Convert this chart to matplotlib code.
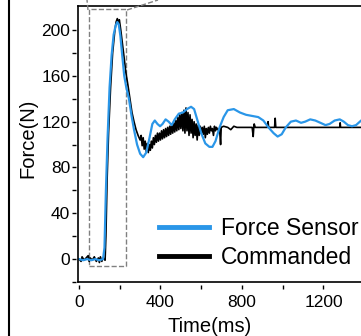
import matplotlib
matplotlib.use('Agg')
import matplotlib.pyplot as plt
from matplotlib.lines import Line2D
from matplotlib.patches import Rectangle

plt.rcParams['font.family'] = ['Liberation Sans', 'DejaVu Sans']

# force sensor reading (ms, N)
sensor_t = [0, 20, 40, 60, 80, 100, 118, 125, 132, 140, 150, 160, 170, 180, 188, 195, 203, 212,
            222, 232, 245, 258, 270, 285, 300, 315, 330, 345, 360, 372, 385, 398, 410, 425, 440,
            455, 470, 490, 510, 530, 550, 565, 580, 600, 620, 640, 655, 670, 690, 710, 730, 760,
            790, 820, 850, 880, 905, 930, 955, 975, 995, 1015, 1040, 1065, 1090, 1110, 1135, 1160,
            1185, 1210, 1230, 1255, 1280, 1300, 1320, 1340, 1360, 1385, 1420]
sensor_f = [0, -1, 0, -1, 0, -1, 0, 10, 60, 105, 150, 178, 196, 204, 207, 205, 195, 178,
            160, 150, 140, 125, 113, 100, 92, 89, 93, 105, 118, 121, 118, 116, 118, 122, 120,
            117, 122, 127, 128, 131, 133, 131, 122, 110, 101, 98, 98, 103, 115, 124, 130, 131,
            128, 126, 125, 124, 121, 115, 110, 107, 109, 115, 120, 121, 119, 120, 122, 121,
            119, 117, 118, 121, 122, 120, 117, 116, 117, 121, 123]

# commanded force (ms, N)
cmd_t = [0, 10, 15, 25, 35, 45, 50, 55, 65, 75, 85, 95, 100, 105, 112, 118, 125, 128,
         132, 138, 145, 155, 165, 175, 182, 188, 193, 198, 205, 212, 220, 230, 240, 250, 260,
         270, 280, 290, 300, 305, 310, 315, 320, 325, 330, 335, 340, 345, 350, 355, 360, 365,
         370, 375, 380, 385, 390, 395, 400, 405, 410, 415, 420, 425, 430, 435, 440, 445, 450,
         455, 460, 465, 470, 475, 480, 485, 490, 495, 500, 505, 510, 515, 520, 525, 530, 535,
         540, 545, 550, 555, 560, 565, 570, 575, 580, 585, 590, 595, 600, 605, 610, 615, 620,
         625, 630, 635, 640, 645, 650, 655, 660, 665, 670, 675, 680, 690, 695, 698, 710, 730,
         745, 760, 775, 800, 850, 855, 858, 860, 865, 900, 925, 928, 931, 960, 963, 966, 1000,
         1280, 1282, 1284, 1500]
cmd_f = [0, -2, 2, -1, 1, 3, -2, 1, -1, 2, -2, 1, -3, 2, -2, 1, 0, -1,
         20, 70, 110, 150, 180, 198, 207, 210, 206, 209, 200, 190, 178, 163, 152, 140, 128,
         120, 113, 108, 104, 108, 99, 106, 96, 103, 94, 101, 93, 100, 95, 103, 97, 106,
         100, 108, 102, 110, 103, 110, 104, 112, 105, 113, 106, 114, 107, 115, 108, 116, 109,
         118, 110, 119, 111, 121, 112, 124, 113, 126, 114, 128, 112, 130, 110, 132, 112, 128,
         108, 126, 110, 122, 106, 120, 108, 118, 104, 117, 108, 116, 110, 115, 109, 116, 106,
         114, 109, 115, 110, 116, 112, 114, 108, 116, 112, 115, 113, 114, 100, 115, 116, 115,
         113, 116, 115, 115, 115, 107, 115, 118, 115, 115, 115, 120, 115, 115, 123, 115, 115,
         115, 119, 115, 115]

sensor_color = '#2a96e8'

fig = plt.figure(figsize=(3.61, 3.36), dpi=100)
ax = fig.add_axes([78 / 361, 54 / 336, 0.9, 276 / 336])

ax.plot(cmd_t, cmd_f, color='black', lw=1.2)
ax.plot(sensor_t, sensor_f, color=sensor_color, lw=1.6)

# zoom box
ax.add_patch(Rectangle((47, -6), 186, 224, fill=False, ls='--', lw=1, ec='gray', clip_on=False))

ax.set_xlim(-5, 1590)
ax.set_ylim(-20, 221)
ax.set_xticks([0, 400, 800, 1200])
ax.set_xticks([200, 600, 1000, 1400], minor=True)
ax.set_yticks([0, 40, 80, 120, 160, 200])
ax.set_yticks([-20, 20, 60, 100, 140, 180], minor=True)

# ticks sit a little away from the axis lines
ax.spines['left'].set_position(('outward', 1.8))
ax.spines['bottom'].set_position(('outward', 1.8))
for side in ['left', 'bottom', 'right']:
    ax.spines[side].set_visible(False)
ax.spines['top'].set_linewidth(1.2)
ax.plot([0, 0], [0, 1], transform=ax.transAxes, color='black', lw=1.2, clip_on=False)
ax.plot([0, 1], [0, 0], transform=ax.transAxes, color='black', lw=1.2, clip_on=False)

ax.tick_params(which='both', direction='out', length=3, width=1, labelsize=12.5)
ax.tick_params(axis='y', which='both', pad=0.8)
ax.tick_params(axis='x', which='both', pad=4.3)

ax.set_xlabel('Time(ms)', fontsize=14.5)
ax.xaxis.set_label_coords((209.5 - 78) / 325, -(317 - 282) / 276)
ax.set_ylabel('Force(N)', fontsize=14.5)
ax.yaxis.set_label_coords((37 - 78) / 325, (282 - 138.5) / 276)

handles = [Line2D([], [], color=sensor_color, lw=3.5), Line2D([], [], color='black', lw=3.5)]
ax.legend(handles, ['Force Sensor', 'Commanded'], frameon=False, fontsize=16.5,
          handlelength=2.18, handletextpad=0.5, labelspacing=0.25,
          loc='lower left', bbox_to_anchor=(0.222, 0.0155), borderaxespad=0)

# outer frame and connector lines to the inset above
fig.add_artist(Line2D([9 / 361, 9 / 361], [0, 1], color='black', lw=1.5))
fig.add_artist(Line2D([88 / 361, 87 / 361], [1 - 10 / 336, 1], color='gray', lw=1, ls='--'))
fig.add_artist(Line2D([127 / 361, 158 / 361], [1 - 10 / 336, 1], color='gray', lw=1, ls='--'))

fig.savefig('out.png', dpi=100)
